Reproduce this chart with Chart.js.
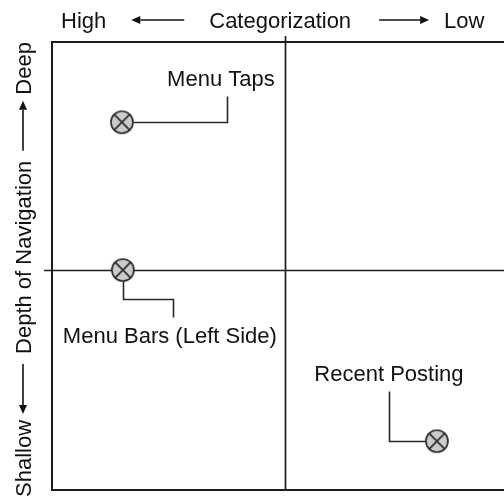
<!DOCTYPE html>
<html>
<head>
<meta charset="utf-8">
<script src="https://cdn.jsdelivr.net/npm/chart.js@4.4.1/dist/chart.umd.min.js"></script>
<style>
  html, body { margin: 0; padding: 0; background: #fff; overflow: hidden; }
  #wrap { width: 504px; height: 501px; overflow: hidden; }
</style>
</head>
<body>
<div id="wrap"><canvas id="myChart" width="530" height="501"></canvas></div>
<script>
// data
var names = ["Menu Taps", "Menu Bars (Left Side)", "Recent Posting"];
var categorization = [15.0, 15.2, 82.6];   // x: 0 = high, 100 = low
var depth = [82.1, 49.1, 10.9];            // y: 0 = shallow, 100 = deep
var splitX = 50;
var splitY = 49.1;

var FONT = '22px "Liberation Sans", Arial, sans-serif';
var INK = "#111";

// marker: grey circle with an X through it
function makeMarker() {
    var c = document.createElement("canvas");
    c.width = 26; c.height = 26;
    var g = c.getContext("2d");
    var r = 11;
    g.beginPath();
    g.arc(13, 13, r, 0, Math.PI * 2);
    g.fillStyle = "#cbcbcb";
    g.fill();
    g.strokeStyle = "#2e2e2e";
    g.lineWidth = 1.7;
    var d = r * 0.7071;
    g.beginPath();
    g.moveTo(13 - d, 13 - d); g.lineTo(13 + d, 13 + d);
    g.moveTo(13 + d, 13 - d); g.lineTo(13 - d, 13 + d);
    g.stroke();
    g.beginPath();
    g.arc(13, 13, r, 0, Math.PI * 2);
    g.stroke();
    return c;
}

// callout leaders, relative to each point
var callouts = [
    { path: [[11, 0], [105, 0], [105, -26]], text: [99, -36] },
    { path: [[0, 11], [0, 29], [50, 29], [50, 47]], text: [47, 73] },
    { path: [[-11, 0], [-48, 0], [-48, -50]], text: [-48, -60] }
];

function arrow(ctx, x1, y1, x2, y2) {
    // line from (x1,y1) with the head at (x2,y2)
    var a = Math.atan2(y2 - y1, x2 - x1);
    var hl = 9, hw = 4;
    ctx.beginPath();
    ctx.moveTo(x1, y1);
    ctx.lineTo(x2 - Math.cos(a) * hl, y2 - Math.sin(a) * hl);
    ctx.stroke();
    ctx.beginPath();
    ctx.moveTo(x2, y2);
    ctx.lineTo(x2 - Math.cos(a) * hl - Math.sin(a) * hw, y2 - Math.sin(a) * hl + Math.cos(a) * hw);
    ctx.lineTo(x2 - Math.cos(a) * hl + Math.sin(a) * hw, y2 - Math.sin(a) * hl - Math.cos(a) * hw);
    ctx.closePath();
    ctx.fill();
}

var quadrantPlugin = {
    id: "quadrant",
    beforeDatasetsDraw: function (chart) {
        var ctx = chart.ctx;
        var a = chart.chartArea;
        var xs = chart.scales.x, ys = chart.scales.y;
        ctx.save();
        ctx.strokeStyle = "#1e1e1e";
        ctx.lineWidth = 2;
        ctx.strokeRect(a.left, a.top, a.right - a.left, a.bottom - a.top);
        var cx = Math.round(xs.getPixelForValue(splitX)) + 0.5;
        var cy = Math.round(ys.getPixelForValue(splitY)) + 0.5;
        ctx.lineWidth = 1.7;
        ctx.beginPath();
        ctx.moveTo(cx, a.top - 6); ctx.lineTo(cx, a.bottom);
        ctx.moveTo(a.left - 8, cy); ctx.lineTo(a.right, cy);
        ctx.stroke();

        // callout leaders and labels
        var meta = chart.getDatasetMeta(0);
        ctx.lineWidth = 1.6;
        ctx.strokeStyle = "#2a2a2a";
        ctx.fillStyle = INK;
        ctx.font = FONT;
        ctx.textAlign = "center";
        ctx.textBaseline = "alphabetic";
        meta.data.forEach(function (pt, i) {
            var c = callouts[i];
            ctx.beginPath();
            c.path.forEach(function (p, j) {
                var px = Math.round(pt.x + p[0]) + 0.5, py = Math.round(pt.y + p[1]) + 0.5;
                if (j === 0) ctx.moveTo(px, py); else ctx.lineTo(px, py);
            });
            ctx.stroke();
            ctx.fillText(names[i], pt.x + c.text[0], pt.y + c.text[1]);
        });

        // axis headings with arrows
        ctx.textAlign = "left";
        ctx.lineWidth = 1.6;
        ctx.strokeStyle = INK;
        var ty = 28, ay = 20;
        var x = 61;
        ctx.fillText("High", x, ty); x += ctx.measureText("High").width + 25;
        arrow(ctx, x + 53, ay, x, ay); x += 53 + 25;
        ctx.fillText("Categorization", x, ty); x += ctx.measureText("Categorization").width + 28;
        arrow(ctx, x, ay, x + 50, ay); x += 50 + 15;
        ctx.fillText("Low", x, ty);

        // left heading, reading bottom to top
        ctx.save();
        ctx.translate(31, 497);
        ctx.rotate(-Math.PI / 2);
        var ly = -8, s = 0;
        ctx.fillText("Shallow", s, 0); s += ctx.measureText("Shallow").width + 6;
        arrow(ctx, s + 50, ly, s, ly); s += 50 + 10;
        ctx.fillText("Depth of Navigation", s, 0); s += ctx.measureText("Depth of Navigation").width + 10;
        arrow(ctx, s, ly, s + 50, ly); s += 50 + 6;
        ctx.fillText("Deep", s, 0);
        ctx.restore();
        ctx.restore();
    }
};

var points = names.map(function (n, i) { return { x: categorization[i], y: depth[i] }; });

new Chart(document.getElementById("myChart"), {
    type: "scatter",
    data: {
        datasets: [{
            label: "Features",
            data: points,
            pointStyle: makeMarker(),
            pointRadius: 12,
            pointHoverRadius: 12
        }]
    },
    options: {
        responsive: false,
        animation: false,
        events: [],
        layout: { autoPadding: false, padding: { left: 52, top: 42, right: 12, bottom: 11 } },
        plugins: { legend: { display: false }, tooltip: { enabled: false } },
        scales: {
            x: { type: "linear", min: 0, max: 100, display: false },
            y: { type: "linear", min: 0, max: 100, display: false }
        }
    },
    plugins: [quadrantPlugin]
});
</script>
</body>
</html>
